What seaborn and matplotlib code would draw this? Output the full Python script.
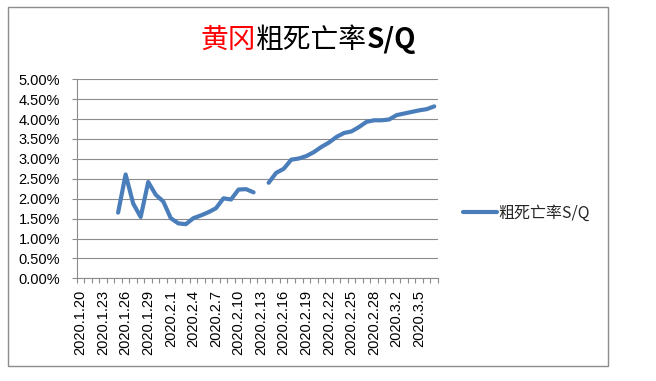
import numpy as np
import pandas as pd
import matplotlib
matplotlib.use("Agg")
import matplotlib.pyplot as plt
import seaborn as sns
from matplotlib.patches import Rectangle
from matplotlib.lines import Line2D
from matplotlib.ticker import FixedLocator, FuncFormatter

# ---- data ----
dates = ["2020.1.20", "2020.1.21", "2020.1.22", "2020.1.23", "2020.1.24", "2020.1.25",
         "2020.1.26", "2020.1.27", "2020.1.28", "2020.1.29", "2020.1.30", "2020.1.31",
         "2020.2.1", "2020.2.2", "2020.2.3", "2020.2.4", "2020.2.5", "2020.2.6",
         "2020.2.7", "2020.2.8", "2020.2.9", "2020.2.10", "2020.2.11", "2020.2.12",
         "2020.2.13", "2020.2.14", "2020.2.15", "2020.2.16", "2020.2.17", "2020.2.18",
         "2020.2.19", "2020.2.20", "2020.2.21", "2020.2.22", "2020.2.23", "2020.2.24",
         "2020.2.25", "2020.2.26", "2020.2.27", "2020.2.28", "2020.2.29", "2020.3.1",
         "2020.3.2", "2020.3.3", "2020.3.4", "2020.3.5", "2020.3.6", "2020.3.7"]
nan = np.nan
rate_pct = [nan, nan, nan, nan, nan, 1.65,
            2.61, 1.88, 1.54, 2.42, 2.10, 1.93,
            1.51, 1.38, 1.36, 1.51, 1.58, 1.66,
            1.76, 2.01, 1.98, 2.23, 2.24, 2.16,
            nan, 2.40, 2.65, 2.75, 2.98, 3.01,
            3.07, 3.17, 3.30, 3.41, 3.55, 3.65,
            3.69, 3.80, 3.93, 3.97, 3.97, 3.99,
            4.10, 4.14, 4.18, 4.22, 4.25, 4.32]
series_name = "粗死亡率S/Q"
yticks = [0.0, 0.5, 1.0, 1.5, 2.0, 2.5, 3.0, 3.5, 4.0, 4.5, 5.0]

# ---- style ----
sns.set_theme(style="white")
plt.rcParams['font.family'] = ['Liberation Sans', 'Noto Sans CJK SC', 'DejaVu Sans']
GRAY = "#8c8c8c"
BLUE = "#4A7EBB"
W, H = 656, 381

fig = plt.figure(figsize=(W / 100, H / 100), dpi=100)
fig.patch.set_facecolor("white")
ax = fig.add_axes([76.7 / W, 1 - 278.3 / H, (438 - 76.7) / W, (278.3 - 79.3) / H])

df = pd.DataFrame({"idx": np.arange(len(dates)), "date": dates, "rate": rate_pct})
# segment id so the missing value breaks the line
df["seg"] = df["rate"].isna().cumsum()
df = df.dropna(subset=["rate"])
sns.lineplot(data=df, x="idx", y="rate", units="seg", estimator=None,
             color=BLUE, lw=3.0, ax=ax, legend=False)

ax.set_xlim(-0.5, len(dates) - 0.5)
ax.set_ylim(0, 5)
ax.set_xlabel("")
ax.set_ylabel("")

major = list(range(0, len(dates), 3))
ax.xaxis.set_major_locator(FixedLocator(major))
ax.set_xticklabels([dates[i] for i in major], rotation=90, fontsize=10.5, color="black")
ax.xaxis.set_minor_locator(FixedLocator(np.arange(-0.5, len(dates), 1.0)))
ax.tick_params(axis="x", which="major", length=0, pad=8.4)
ax.tick_params(axis="x", which="minor", length=3.5, width=0.8, color=GRAY, direction="out", bottom=True)

ax.yaxis.set_major_locator(FixedLocator(yticks))
ax.yaxis.set_major_formatter(FuncFormatter(lambda v, p: f"{v:.2f}%"))
ax.tick_params(axis="y", which="major", length=3.6, width=0.8, color=GRAY, direction="out",
               left=True, pad=8.4, labelsize=10.5, labelcolor="black")

ax.yaxis.grid(True, color=GRAY, lw=0.8)
ax.xaxis.grid(False)
ax.set_axisbelow(True)
for s in ["top", "right"]:
    ax.spines[s].set_visible(False)
for s in ["left", "bottom"]:
    ax.spines[s].set_color(GRAY)
    ax.spines[s].set_linewidth(0.8)

# chart frame
fig.patches.append(Rectangle((8 / W, 1 - 366 / H), 600 / W, 359 / H, transform=fig.transFigure,
                             fill=False, edgecolor=GRAY, lw=1.0))

# legend
handle = Line2D([0], [0], color=BLUE, lw=3.0)
fig.legend(handles=[handle], labels=[series_name], loc="center left",
           bbox_to_anchor=(463 / W, 1 - 213 / H), frameon=False,
           handlelength=34 / 16, handletextpad=0.1, borderaxespad=0, borderpad=0,
           prop={"family": ["Noto Sans CJK SC", "DejaVu Sans"], "size": 11.5})

# title with mixed colours
fig.canvas.draw()
r = fig.canvas.get_renderer()
parts = [("黄冈", "#FF0000", "normal"), ("粗死亡率", "black", "normal"), ("S/Q", "black", "bold")]
texts, widths = [], []
for s, c, w in parts:
    t = fig.text(0, 1 - 40 / H, s, color=c, fontsize=20, fontweight=w,
                 family=["Noto Sans CJK SC", "DejaVu Sans"], va="center", ha="left")
    widths.append(t.get_window_extent(renderer=r).width)
    texts.append(t)
x = 308 - sum(widths) / 2
for t, wd in zip(texts, widths):
    t.set_x(x / W)
    x += wd

fig.savefig("out.png", dpi=100, facecolor="white")
